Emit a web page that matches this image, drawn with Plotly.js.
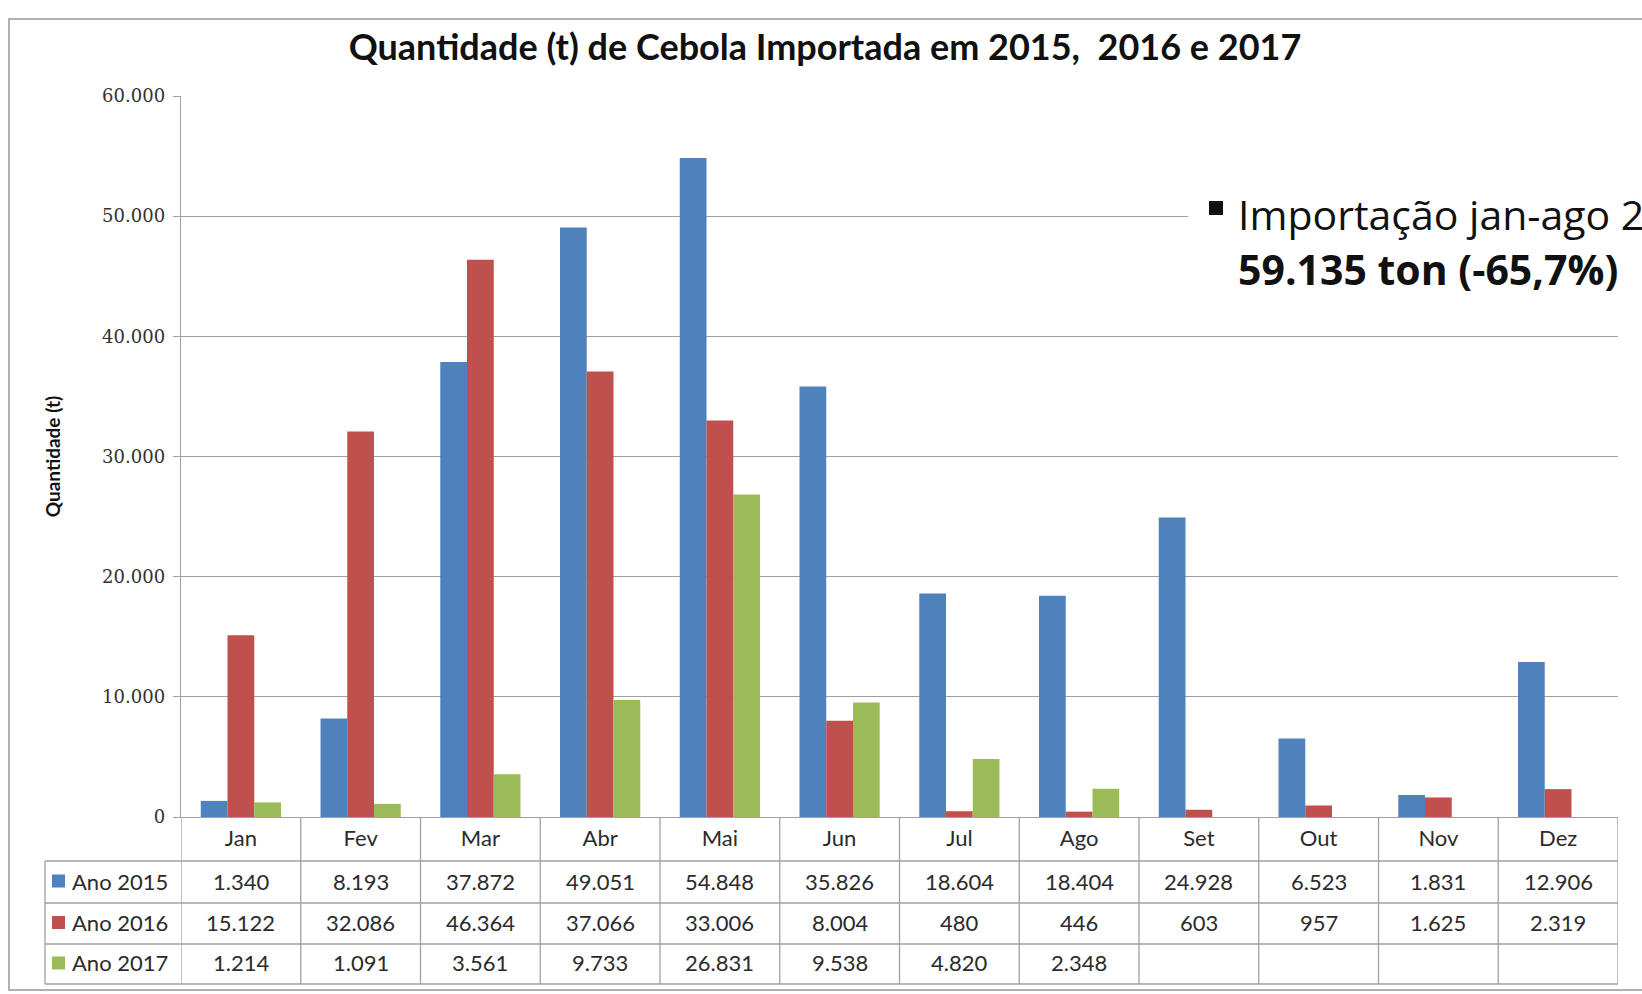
<!DOCTYPE html>
<html>
<head>
<meta charset="utf-8">
<script src="https://cdn.plot.ly/plotly-3.0.1.min.js"></script>
<style>html,body{margin:0;padding:0;background:#fff;overflow:hidden}#chart{width:1642px;height:994px}</style>
</head>
<body>
<div id="chart"></div>
<script>
// ---- data ----
const months = ['Jan','Fev','Mar','Abr','Mai','Jun','Jul','Ago','Set','Out','Nov','Dez'];
const seriesNames = ['Ano 2015','Ano 2016','Ano 2017'];
const ano2015 = [1340,8193,37872,49051,54848,35826,18604,18404,24928,6523,1831,12906];
const ano2016 = [15122,32086,46364,37066,33006,8004,480,446,603,957,1625,2319];
const ano2017 = [1214,1091,3561,9733,26831,9538,4820,2348,null,null,null,null];
const yTickVals = [0,10000,20000,30000,40000,50000,60000];
const yTickText = ['0','10.000','20.000','30.000','40.000','50.000','60.000'];
const titleText = 'Quantidade (t) de Cebola Importada em 2015,  2016 e 2017';
const yTitle = 'Quantidade (t)';
const noteLine1 = 'Importação jan-ago 2017';
const noteLine2 = '59.135 ton (-65,7%)';

// ---- style ----
const colors = ['#4F81BD','#C0504D','#9BBB59'];
const W = 1642, H = 994;
const L = 181, R = 1618, T = 96, B = 817;
const gridCol = '#A0A0A0';
const sans = 'Lato, "Open Sans", sans-serif';
const txtCol = '#2b2b2b';
const px2x = p => (p - L) / (R - L);
const px2y = p => (B - p) / (B - T);
const fmt = v => String(v).replace(/\B(?=(\d{3})+(?!\d))/g, '.');

const allSeries = [ano2015, ano2016, ano2017];
const traces = allSeries.map((vals, k) => ({
  type: 'bar', x: months, y: vals, name: seriesNames[k],
  marker: {color: colors[k], line: {width: 0}}, hoverinfo: 'x+y+name'
}));

// table geometry (pixels)
const rowLines = [861, 903, 944, 984];
const rowCenters = [881, 922.5, 963];
const tableLeft = 45;

const shapes = [];
const annotations = [];
// outer frame
shapes.push({type:'rect', xref:'paper', yref:'paper', x0:px2x(9), x1:px2x(1700), y0:px2y(990), y1:px2y(19),
  line:{color:'#B0B0B0', width:2}, fillcolor:'rgba(0,0,0,0)', layer:'below'});
// horizontal table lines
rowLines.forEach(p => shapes.push({type:'line', xref:'paper', yref:'paper', x0:px2x(tableLeft), x1:1,
  y0:px2y(p), y1:px2y(p), line:{color:gridCol, width:1.3}}));
// vertical table lines at category boundaries
for (let i = 0; i <= months.length; i++) {
  shapes.push({type:'line', xref:'x', yref:'paper', x0:i-0.5, x1:i-0.5, y0:0, y1:px2y(rowLines[3]),
    line:{color:gridCol, width:1.3}});
}
shapes.push({type:'line', xref:'paper', yref:'paper', x0:px2x(tableLeft), x1:px2x(tableLeft),
  y0:px2y(rowLines[0]), y1:px2y(rowLines[3]), line:{color:gridCol, width:1.3}});

// table cells
allSeries.forEach((vals, k) => {
  const yc = px2y(rowCenters[k]);
  shapes.push({type:'rect', xref:'paper', yref:'paper', x0:px2x(52), x1:px2x(65),
    y0:yc - 6.5/(B-T), y1:yc + 6.5/(B-T), fillcolor:colors[k], line:{width:0}});
  annotations.push({xref:'paper', yref:'paper', x:px2x(70), y:yc, xanchor:'left', yanchor:'middle',
    text:seriesNames[k], showarrow:false, font:{family:sans, size:22, color:txtCol}});
  vals.forEach((v, i) => {
    if (v === null) return;
    annotations.push({xref:'x', yref:'paper', x:months[i], y:yc, xanchor:'center', yanchor:'middle',
      text:fmt(v), showarrow:false, font:{family:sans, size:22, color:txtCol}});
  });
});

// note box
shapes.push({type:'rect', xref:'paper', yref:'paper', x0:px2x(1188), x1:px2x(1700), y0:px2y(300), y1:px2y(188),
  fillcolor:'#ffffff', line:{width:0}, layer:'above'});
shapes.push({type:'rect', xref:'paper', yref:'paper', x0:px2x(1209), x1:px2x(1223), y0:px2y(215), y1:px2y(201),
  fillcolor:'#111111', line:{width:0}, layer:'above'});
annotations.push({xref:'paper', yref:'paper', x:px2x(1236), y:px2y(214), xanchor:'left', yanchor:'middle',
  text:noteLine1, showarrow:false,
  font:{family:'"Open Sans", sans-serif', size:41, color:'#111'}});
annotations.push({xref:'paper', yref:'paper', x:px2x(1236), y:px2y(269), xanchor:'left', yanchor:'middle',
  text:'<b>' + noteLine2 + '</b>', showarrow:false,
  font:{family:'"Open Sans", sans-serif', size:41, color:'#111'}});

const layout = {
  width: W, height: H,
  margin: {l: L, r: W - R, t: T, b: H - B, pad: 0},
  paper_bgcolor: '#ffffff', plot_bgcolor: '#ffffff',
  showlegend: false,
  barmode: 'group', bargap: 0.33, bargroupgap: 0,
  title: {text: '<b>' + titleText + '</b>', x: 825/W, xref: 'container', xanchor: 'center',
    y: 1 - 47/H, yref: 'container', yanchor: 'middle',
    font: {family: sans, size: 36, color: '#111'}},
  xaxis: {type: 'category', range: [-0.5, months.length - 0.5], showgrid: false, zeroline: false,
    showline: true, linecolor: gridCol, linewidth: 1.3, ticks: '', ticklabelstandoff: 1,
    tickfont: {family: sans, size: 22, color: txtCol}, fixedrange: true},
  yaxis: {range: [0, 60000], tickvals: yTickVals, ticktext: yTickText, showgrid: true,
    gridcolor: gridCol, gridwidth: 1.2, zeroline: false, showline: true, linecolor: gridCol, linewidth: 1.3,
    ticks: 'outside', ticklen: 7, tickcolor: gridCol, ticklabelstandoff: 4,
    tickfont: {family: '"DejaVu Serif", serif', size: 18, color: '#333'},
    title: {text: '<b>' + yTitle + '</b>', standoff: 36, font: {family: sans, size: 19, color: '#111'}},
    fixedrange: true},
  shapes: shapes,
  annotations: annotations
};

Plotly.newPlot('chart', traces, layout, {displayModeBar: false, staticPlot: true});
</script>
</body>
</html>
